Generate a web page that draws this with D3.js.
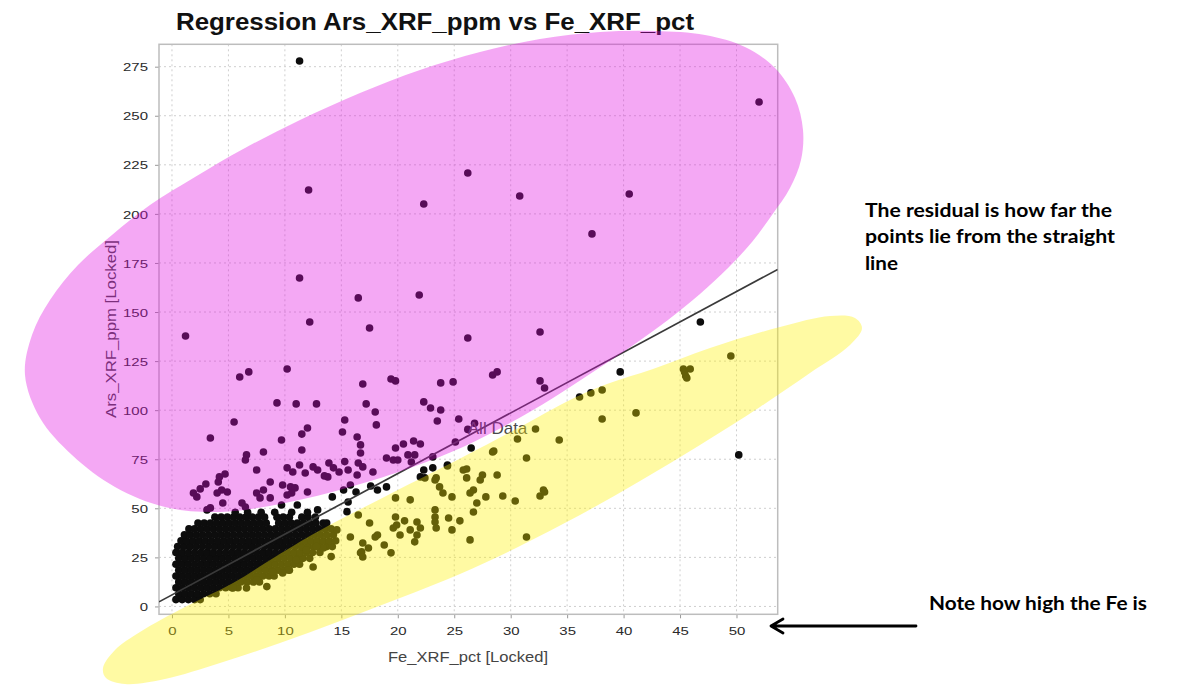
<!DOCTYPE html>
<html>
<head>
<meta charset="utf-8">
<script src="https://cdn.jsdelivr.net/npm/d3@7"></script>
<style>
  body { margin: 0; background: #fff; }
  svg { display: block; }
</style>
</head>
<body>
<svg id="chart" width="1177" height="685"></svg>
<script>
// Axis ticks
const xTicks = [0, 5, 10, 15, 20, 25, 30, 35, 40, 45, 50];
const yTicks = [0, 25, 50, 75, 100, 125, 150, 175, 200, 225, 250, 275];

// Least squares fit
const fitIntercept = 5.9;
const fitSlope = 3.09;

// Dense cluster near the origin, row by row: [Ars value, Fe values]
const clusterRows = [
  [3.5, [0.35, 0.9, 1.45, 2.0, 2.5]],
  [6.5, [0.6, 1.15, 1.7, 2.25, 2.8, 3.35, 3.9]],
  [9.5, [0.35, 0.9, 1.45, 2.0, 2.55, 3.1, 3.65, 4.2, 4.75, 5.3, 5.85]],
  [12.5, [0.6, 1.15, 1.7, 2.25, 2.8, 3.35, 3.9, 4.45, 5.0, 5.55, 6.1, 6.65, 7.2, 7.75]],
  [15.5, [0.35, 0.9, 1.45, 2.0, 2.55, 3.1, 3.65, 4.2, 4.75, 5.3, 5.85, 6.4, 6.95, 7.5, 8.05, 8.6, 9.05]],
  [18.5, [0.6, 1.15, 1.7, 2.25, 2.8, 3.35, 3.9, 4.45, 5.0, 5.55, 6.1, 6.65, 7.2, 7.75, 8.3, 8.85, 9.4, 9.95, 10.4]],
  [21.5, [0.35, 0.9, 1.45, 2.0, 2.55, 3.1, 3.65, 4.2, 4.75, 5.3, 5.85, 6.4, 6.95, 7.5, 8.05, 8.6, 9.15, 9.7, 10.25, 10.8, 11.3]],
  [24.5, [0.6, 1.15, 1.7, 2.25, 2.8, 3.35, 3.9, 4.45, 5.0, 5.55, 6.1, 6.65, 7.2, 7.75, 8.3, 8.85, 9.4, 9.95, 10.5, 11.05, 11.6, 12.2]],
  [27.5, [0.35, 0.9, 1.45, 2.0, 2.55, 3.1, 3.65, 4.2, 4.75, 5.3, 5.85, 6.4, 6.95, 7.5, 8.05, 8.6, 9.15, 9.7, 10.25, 10.8, 11.35, 11.9, 12.45, 13.1]],
  [30.5, [0.5, 1.05, 1.6, 2.15, 2.7, 3.25, 3.8, 4.35, 4.9, 5.45, 6.0, 6.55, 7.1, 7.65, 8.2, 8.75, 9.3, 9.85, 10.4, 10.95, 11.5, 12.05, 12.6, 13.15, 13.7, 14.2]],
  [33.5, [0.8, 1.3, 1.85, 2.4, 2.95, 3.5, 4.05, 4.6, 5.15, 5.7, 6.25, 6.8, 7.35, 7.9, 8.45, 9.0, 9.55, 10.1, 10.65, 11.2, 11.75, 12.3, 12.85, 13.4, 13.95, 14.5]],
  [36.5, [1.1, 1.6, 2.15, 2.7, 3.25, 3.8, 4.35, 4.9, 5.45, 6.0, 6.55, 7.1, 7.65, 8.2, 8.75, 9.3, 9.85, 10.4, 10.95, 11.5, 12.05, 12.6, 13.15, 13.7, 14.3]],
  [39.5, [1.5, 2.0, 2.55, 3.1, 3.65, 4.2, 4.75, 5.3, 5.85, 6.4, 6.95, 7.5, 8.05, 8.6, 9.15, 9.7, 10.25, 10.8, 11.35, 11.9, 12.45, 13.0, 13.55, 14.1]],
  [42.5, [2.3, 2.85, 3.4, 3.95, 4.5, 5.05, 5.6, 6.15, 6.7, 7.25, 7.8, 8.35, 9.45, 10.0, 10.55, 11.1, 11.65, 12.2, 12.75, 13.4]],
  [45.5, [3.8, 4.35, 4.9, 5.45, 6.0, 6.55, 7.1, 7.65, 8.2, 9.3, 9.85, 10.4, 11.5, 12.05, 12.7]],
  [48.0, [5.6, 6.7, 7.9, 9.1, 10.6, 12.0]]
];

// High outliers [Fe, Ars]
const upperPoints = [
  [11.3, 277.9], [52.0, 257.0], [12.1, 212.2], [26.2, 220.8], [30.8, 209.1], [40.5, 210.1],
  [22.3, 205.0], [37.2, 189.8], [11.3, 167.3], [16.5, 157.2], [21.9, 158.7], [12.2, 144.9],
  [17.5, 141.9], [26.2, 136.8], [32.6, 139.8], [1.2, 137.8], [46.8, 144.9], [39.7, 119.5],
  [28.4, 117.9], [28.8, 119.5], [23.8, 113.9], [24.9, 114.4], [32.6, 114.9], [33.0, 111.3],
  [36.1, 106.7], [37.1, 108.8], [38.1, 110.3], [49.5, 127.6], [45.3, 121.0], [45.9, 121.0],
  [45.5, 117.4], [45.6, 116.4], [45.4, 119.5], [41.1, 98.6], [38.1, 95.5], [50.2, 77.2]
];

// Points above the fitted line [Fe, Ars]
const midPoints = [
  [6.0, 116.9], [6.8, 119.5], [10.2, 121.0], [9.3, 103.7], [11.0, 103.2], [12.8, 103.2],
  [3.4, 85.8], [5.5, 94.0], [16.9, 113.3], [17.2, 103.2], [18.0, 99.1], [19.4, 115.9],
  [19.8, 114.9], [22.3, 104.2], [22.9, 101.1], [23.5, 94.5], [23.8, 100.1], [25.4, 95.5],
  [26.2, 90.2], [26.8, 93.3], [15.3, 95.0], [15.1, 88.9], [16.4, 86.3], [18.1, 92.5],
  [12.0, 90.9], [11.5, 87.8], [9.7, 84.8], [11.5, 79.7], [6.6, 77.2], [6.5, 74.6],
  [7.5, 69.5], [8.1, 78.7], [10.2, 70.6], [10.7, 68.5], [11.3, 72.1], [11.8, 68.0],
  [12.5, 71.1], [12.9, 69.5], [13.8, 66.0], [15.3, 73.8], [16.7, 82.3], [16.7, 78.2],
  [16.5, 73.1], [16.9, 71.1], [15.6, 69.5], [17.8, 68.5], [19.0, 75.6], [19.6, 74.6],
  [20.0, 74.6], [20.9, 77.2], [21.5, 77.2], [23.1, 76.2], [25.1, 83.8], [20.5, 82.8],
  [19.8, 80.7], [21.4, 84.3], [22.0, 82.8], [21.2, 73.6], [4.1, 63.4], [4.4, 59.3],
  [4.9, 58.3], [4.0, 57.8], [2.2, 55.8], [3.4, 50.2], [3.1, 49.2], [4.5, 52.7],
  [6.2, 52.7], [6.5, 50.7], [7.5, 57.8], [7.8, 55.3], [8.1, 59.3], [8.7, 63.4],
  [8.7, 55.3], [9.8, 61.9], [10.5, 60.9], [10.9, 60.4], [10.2, 56.8], [10.6, 57.8],
  [12.0, 58.3], [9.7, 51.7], [11.1, 51.7], [14.2, 55.8], [15.2, 59.3], [15.8, 61.9],
  [16.4, 67.0], [18.2, 59.3], [19.0, 60.9], [15.6, 53.2], [12.9, 49.2], [4.2, 66.0],
  [4.7, 67.5], [2.5, 59.9], [1.9, 57.8], [3.0, 62.4], [13.9, 73.1], [14.3, 70.6],
  [13.5, 66.5], [14.8, 68.5], [16.3, 58.3], [17.6, 61.4], [22.3, 69.5]
];

// Points below the fitted line [Fe, Ars]
const lowerPoints = [
  [32.2, 90.4], [30.6, 85.3], [34.3, 84.8], [28.5, 79.2], [26.5, 80.7], [31.4, 75.6],
  [23.1, 70.6], [24.4, 71.6], [26.1, 70.0], [27.5, 67.0], [32.9, 59.3], [32.6, 56.3],
  [33.0, 58.3], [31.4, 35.4], [29.3, 56.3], [30.4, 53.7], [28.8, 67.0], [26.1, 65.5],
  [26.7, 59.3], [27.8, 55.8], [23.4, 65.5], [23.7, 60.9], [24.8, 55.8], [23.3, 49.2],
  [24.5, 45.1], [25.5, 43.6], [23.4, 40.0], [20.6, 43.6], [19.6, 40.0], [21.7, 36.4],
  [18.8, 31.3], [19.4, 27.3], [17.4, 29.8], [16.8, 27.8], [15.5, 48.3], [16.5, 46.6],
  [17.5, 42.5], [14.6, 39.0], [13.7, 42.5], [15.8, 35.4], [18.2, 36.4], [19.8, 55.3],
  [21.1, 54.3], [22.0, 66.0], [22.4, 65.5], [23.3, 64.4], [24.0, 57.8], [24.4, 72.1],
  [25.8, 69.5], [28.4, 78.7], [27.3, 64.4], [26.4, 57.8], [27.0, 52.7], [26.7, 48.1],
  [26.4, 33.9], [24.8, 39.0], [23.3, 45.6], [23.3, 43.0], [21.7, 43.0], [22.0, 40.0],
  [21.1, 39.0], [20.2, 36.4], [21.5, 32.9], [19.8, 45.6], [19.9, 41.5], [16.9, 32.3],
  [16.7, 27.3], [16.9, 25.2], [18.0, 35.4], [14.1, 25.4], [13.4, 29.8], [12.5, 20.1],
  [11.9, 28.8], [12.8, 30.5], [11.0, 23.7], [10.3, 18.6], [9.8, 17.1], [8.9, 17.6],
  [8.4, 10.1], [7.5, 13.5], [6.6, 9.4], [5.4, 9.4]
];

// Layout
const plot = { left: 159, right: 777.7, top: 44.3, bottom: 614.3 };
const tickFont = '"Liberation Sans", Arial, sans-serif';

// Hand drawn highlight shapes (page pixels)
const pinkOutline = [
  [25, 375], [32, 335], [50, 300], [78, 265], [112, 235], [150, 205], [195, 177], [245, 148],
  [300, 120], [360, 93], [420, 70], [480, 52], [540, 39], [600, 32], [655, 31], [705, 35],
  [745, 47], [775, 68], [795, 98], [803, 130], [801, 160], [790, 188], [772, 215], [752, 242],
  [728, 268], [700, 294], [668, 320], [632, 346], [593, 372], [553, 398], [510, 423],
  [463, 447], [410, 468], [350, 487], [285, 503], [220, 512], [165, 507], [115, 487],
  [72, 455], [40, 418]
];
const yellowOutline = [
  [103, 668], [115, 650], [140, 632], [185, 607], [233, 583], [275, 557], [317, 532],
  [390, 494], [463, 457], [520, 427], [572, 399], [607, 384], [653, 369], [710, 348],
  [780, 327], [830, 316], [855, 318], [862, 328], [850, 345], [810, 373], [760, 407],
  [700, 445], [640, 481], [580, 515], [520, 546], [460, 574], [400, 598], [340, 621],
  [280, 643], [220, 663], [165, 679], [125, 684], [106, 678]
];

const svg = d3.select('#chart');

const x = d3.scaleLinear().domain([-1.15, 53.65]).range([plot.left, plot.right]);
const y = d3.scaleLinear().domain([-4.0, 286.4]).range([plot.bottom, plot.top]);

// Title
svg.append('text')
  .attr('x', 435)
  .attr('y', 30)
  .attr('text-anchor', 'middle')
  .attr('font-family', tickFont)
  .attr('font-weight', 'bold')
  .attr('font-size', 23)
  .attr('textLength', 518)
  .attr('lengthAdjust', 'spacingAndGlyphs')
  .attr('fill', '#111')
  .text('Regression Ars_XRF_ppm vs Fe_XRF_pct');

// Grid
const grid = svg.append('g')
  .attr('stroke', '#cfcfcf')
  .attr('stroke-width', 1)
  .attr('stroke-dasharray', '2,3');

grid.selectAll('.gx')
  .data(xTicks)
  .enter()
  .append('line')
  .attr('x1', d => x(d))
  .attr('x2', d => x(d))
  .attr('y1', plot.top)
  .attr('y2', plot.bottom);

grid.selectAll('.gy')
  .data(yTicks)
  .enter()
  .append('line')
  .attr('x1', plot.left)
  .attr('x2', plot.right)
  .attr('y1', d => y(d))
  .attr('y2', d => y(d));

// Axes
const xAxis = svg.append('g')
  .attr('transform', `translate(0,${plot.bottom})`)
  .call(d3.axisBottom(x).tickValues(xTicks).tickSize(4).tickFormat(d3.format('d')));
xAxis.select('.domain').remove();
xAxis.selectAll('line').attr('stroke', '#999');
xAxis.selectAll('text')
  .attr('y', null)
  .attr('dy', null)
  .attr('transform', 'translate(0,21) scale(1.29,1)')
  .attr('font-family', tickFont)
  .attr('font-size', 11.6)
  .attr('fill', '#2a2a2a');

const yAxis = svg.append('g')
  .attr('transform', `translate(${plot.left},0)`)
  .call(d3.axisLeft(y).tickValues(yTicks).tickSize(4).tickFormat(d3.format('d')));
yAxis.select('.domain').remove();
yAxis.selectAll('line').attr('stroke', '#999');
yAxis.selectAll('text')
  .attr('x', null)
  .attr('dy', '0.36em')
  .attr('transform', 'translate(-11,0) scale(1.29,1)')
  .attr('font-family', tickFont)
  .attr('font-size', 11.6)
  .attr('fill', '#2a2a2a');

// Frame
svg.append('rect')
  .attr('x', plot.left)
  .attr('y', plot.top)
  .attr('width', plot.right - plot.left)
  .attr('height', plot.bottom - plot.top)
  .attr('fill', 'none')
  .attr('stroke', '#bdbdbd')
  .attr('stroke-width', 1.5);

// Axis titles
svg.append('text')
  .attr('x', 468)
  .attr('y', 662)
  .attr('text-anchor', 'middle')
  .attr('font-family', tickFont)
  .attr('font-size', 15)
  .attr('textLength', 160)
  .attr('lengthAdjust', 'spacingAndGlyphs')
  .attr('fill', '#444')
  .text('Fe_XRF_pct [Locked]');

svg.append('text')
  .attr('transform', 'translate(116,329) rotate(-90)')
  .attr('text-anchor', 'middle')
  .attr('font-family', tickFont)
  .attr('font-size', 15)
  .attr('textLength', 178)
  .attr('lengthAdjust', 'spacingAndGlyphs')
  .attr('fill', '#444')
  .text('Ars_XRF_ppm [Locked]');

// Points
const clusterPoints = clusterRows.flatMap(([ars, fes]) => fes.map(fe => [fe, ars]));
const allPoints = [...clusterPoints, ...midPoints, ...lowerPoints, ...upperPoints];

svg.append('clipPath')
  .attr('id', 'plotClip')
  .append('rect')
  .attr('x', plot.left)
  .attr('y', plot.top)
  .attr('width', plot.right - plot.left)
  .attr('height', plot.bottom - plot.top);

const marks = svg.append('g').attr('clip-path', 'url(#plotClip)');

marks.selectAll('circle')
  .data(allPoints)
  .enter()
  .append('circle')
  .attr('cx', d => x(d[0]))
  .attr('cy', d => y(d[1]))
  .attr('r', 3.8)
  .attr('fill', '#0d0d0d');

// Regression line over the whole x range
const fitPoints = x.domain().map(v => [v, fitIntercept + fitSlope * v]);

marks.append('path')
  .datum(fitPoints)
  .attr('fill', 'none')
  .attr('stroke', '#3a3a3a')
  .attr('stroke-width', 1.7)
  .attr('d', d3.line().x(d => x(d[0])).y(d => y(d[1])));

svg.append('text')
  .attr('x', x(26.2))
  .attr('y', y(87.8))
  .attr('font-family', tickFont)
  .attr('font-size', 17)
  .attr('fill', '#4a4a4a')
  .text('All Data');

// Highlight shapes drawn over the chart
const blob = d3.line().curve(d3.curveCatmullRomClosed.alpha(0.5));

svg.append('path')
  .attr('d', blob(pinkOutline))
  .attr('fill', 'rgb(225,12,225)')
  .attr('fill-opacity', 0.355);

svg.append('path')
  .attr('d', blob(yellowOutline))
  .attr('fill', 'rgb(255,242,0)')
  .attr('fill-opacity', 0.36);

// Notes
const noteFont = 'Lato, "Open Sans", sans-serif';
const residualNote = [
  { text: 'The residual is how far the', width: 247 },
  { text: 'points lie from the straight', width: 250 },
  { text: 'line', width: 33 }
];

svg.append('g')
  .selectAll('text')
  .data(residualNote)
  .enter()
  .append('text')
  .attr('x', 865)
  .attr('y', (d, i) => 216.7 + i * 26.7)
  .attr('font-family', noteFont)
  .attr('font-weight', 700)
  .attr('font-size', 19.5)
  .attr('textLength', d => d.width)
  .attr('lengthAdjust', 'spacingAndGlyphs')
  .attr('fill', '#000')
  .text(d => d.text);

svg.append('text')
  .attr('x', 929)
  .attr('y', 610)
  .attr('font-family', noteFont)
  .attr('font-weight', 700)
  .attr('font-size', 19.5)
  .attr('textLength', 218)
  .attr('lengthAdjust', 'spacingAndGlyphs')
  .attr('fill', '#000')
  .text('Note how high the Fe is');

// Arrow pointing at the x axis
svg.append('path')
  .attr('d', 'M916,626 L771,626 M783,619 L771,626 L783,633')
  .attr('fill', 'none')
  .attr('stroke', '#000')
  .attr('stroke-width', 2.8)
  .attr('stroke-linecap', 'round')
  .attr('stroke-linejoin', 'round');
</script>
</body>
</html>
